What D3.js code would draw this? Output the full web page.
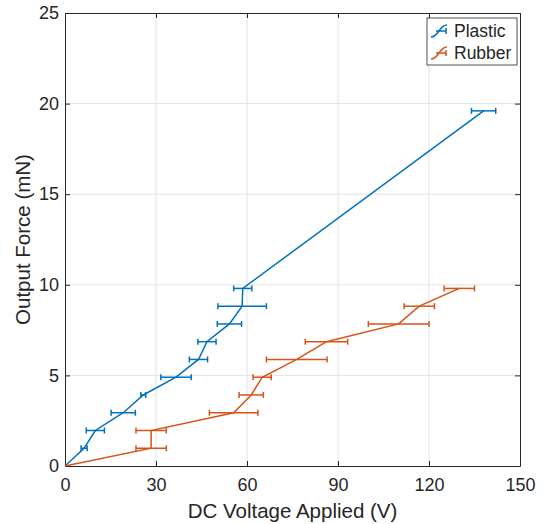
<!DOCTYPE html>
<html>
<head>
<meta charset="utf-8">
<script src="https://cdn.jsdelivr.net/npm/d3@7"></script>
<style>
  body { margin: 0; background: #fff; }
  text { font-family: "Liberation Sans", Arial, sans-serif; fill: #262626; }
</style>
</head>
<body>
<div class="chart-container"></div>
<script>
//! DATA
const forceLevels = [0, 0.98, 1.96, 2.94, 3.92, 4.9, 5.88, 6.86, 7.84, 8.82, 9.8, 19.6];

const plasticVoltage = [0, 6.3, 10, 19.2, 25.8, 36.6, 44, 46.8, 54.2, 58.4, 58.6, 138];
const plasticErr = [0, 1, 3, 4, 0.8, 5, 3, 3, 4, 8, 3, 4];

const rubberVoltage = [0, 28.4, 28.4, 55.6, 61.4, 65, 76.4, 86.2, 110, 116.8, 130];
const rubberErr = [0, 5, 5, 8, 4, 3, 10, 7, 10, 5, 5];

const xTicks = [0, 30, 60, 90, 120, 150];
const yTicks = [0, 5, 10, 15, 20, 25];

const seriesList = [
  { name: 'Plastic', color: '#0072BD', x: plasticVoltage, err: plasticErr },
  { name: 'Rubber', color: '#D95319', x: rubberVoltage, err: rubberErr }
];

//! CONSTS
const width = 543;
const height = 524;
const margin = { top: 13, right: 23, bottom: 58, left: 65 };
const innerW = width - margin.left - margin.right;
const innerH = height - margin.top - margin.bottom;
const capH = 3;

//! SVG
const svg = d3.select('.chart-container')
  .append('svg')
  .attr('width', width)
  .attr('height', height);

const xScale = d3.scaleLinear().domain([0, 150]).range([margin.left, margin.left + innerW]);
const yScale = d3.scaleLinear().domain([0, 25]).range([margin.top + innerH, margin.top]);

//! GRID
svg.append('g')
  .selectAll('line')
  .data(xTicks.slice(1, -1))
  .enter().append('line')
  .attr('x1', d => xScale(d)).attr('x2', d => xScale(d))
  .attr('y1', margin.top).attr('y2', margin.top + innerH)
  .attr('stroke', '#e3e3e3');

svg.append('g')
  .selectAll('line')
  .data(yTicks.slice(1, -1))
  .enter().append('line')
  .attr('y1', d => yScale(d)).attr('y2', d => yScale(d))
  .attr('x1', margin.left).attr('x2', margin.left + innerW)
  .attr('stroke', '#e3e3e3');

//! AXES
const xAxis = d3.axisBottom(xScale).tickValues(xTicks).tickSizeInner(-5).tickSizeOuter(0).tickPadding(12);
const yAxis = d3.axisLeft(yScale).tickValues(yTicks).tickSizeInner(-5).tickSizeOuter(0).tickPadding(6);

svg.append('g')
  .attr('transform', `translate(0,${margin.top + innerH})`)
  .call(xAxis)
  .call(g => g.selectAll('text').style('font-size', '18px'));

svg.append('g')
  .attr('transform', `translate(${margin.left},0)`)
  .call(yAxis)
  .call(g => g.selectAll('text').style('font-size', '18px'));

svg.append('g')
  .attr('transform', `translate(0,${margin.top})`)
  .call(d3.axisTop(xScale).tickValues(xTicks).tickSizeInner(-5).tickSizeOuter(0).tickFormat(''));

svg.append('g')
  .attr('transform', `translate(${margin.left + innerW},0)`)
  .call(d3.axisRight(yScale).tickValues(yTicks).tickSizeInner(-5).tickSizeOuter(0).tickFormat(''));

svg.selectAll('.domain, .tick line').attr('stroke', '#262626');

//! LABELS
svg.append('text')
  .attr('x', margin.left + innerW / 2)
  .attr('y', 518)
  .attr('text-anchor', 'middle')
  .style('font-size', '20.5px')
  .text('DC Voltage Applied (V)');

svg.append('text')
  .attr('transform', `translate(30,${margin.top + innerH / 2}) rotate(-90)`)
  .attr('text-anchor', 'middle')
  .style('font-size', '20.5px')
  .text('Output Force (mN)');

//! SERIES
const line = d3.line()
  .x(d => xScale(d.x))
  .y(d => yScale(d.y));

seriesList.forEach(s => {
  const pts = s.x.map((v, i) => ({ x: v, y: forceLevels[i], e: s.err[i] }));
  const g = svg.append('g');

  g.append('path')
    .datum(pts)
    .attr('d', line)
    .attr('fill', 'none')
    .attr('stroke', s.color)
    .attr('stroke-width', 1.5);

  const bars = g.selectAll('g.err')
    .data(pts.filter(d => d.e > 0))
    .enter().append('g')
    .attr('class', 'err')
    .attr('stroke', s.color)
    .attr('stroke-width', 1.5);

  bars.append('line')
    .attr('x1', d => xScale(d.x - d.e)).attr('x2', d => xScale(d.x + d.e))
    .attr('y1', d => yScale(d.y)).attr('y2', d => yScale(d.y));
  bars.append('line')
    .attr('x1', d => xScale(d.x - d.e)).attr('x2', d => xScale(d.x - d.e))
    .attr('y1', d => yScale(d.y) - capH).attr('y2', d => yScale(d.y) + capH);
  bars.append('line')
    .attr('x1', d => xScale(d.x + d.e)).attr('x2', d => xScale(d.x + d.e))
    .attr('y1', d => yScale(d.y) - capH).attr('y2', d => yScale(d.y) + capH);
});

//! LEGEND
const legend = svg.append('g').attr('transform', 'translate(427,18)');
legend.append('rect')
  .attr('width', 90).attr('height', 47)
  .attr('fill', '#fff').attr('stroke', '#262626').attr('stroke-width', 0.8);

seriesList.forEach((s, i) => {
  const row = legend.append('g').attr('transform', `translate(0,${13 + i * 22})`);
  row.append('path')
    .attr('d', 'M4,6 C12,6 12,-6 20,-6')
    .attr('fill', 'none').attr('stroke', s.color).attr('stroke-width', 1.5);
  row.append('path')
    .attr('d', 'M9,0 H19 M19,-3 V3')
    .attr('fill', 'none').attr('stroke', s.color).attr('stroke-width', 1.5);
  row.append('text')
    .attr('x', 27).attr('y', 6)
    .style('font-size', '17.5px')
    .text(s.name);
});
</script>
</body>
</html>
